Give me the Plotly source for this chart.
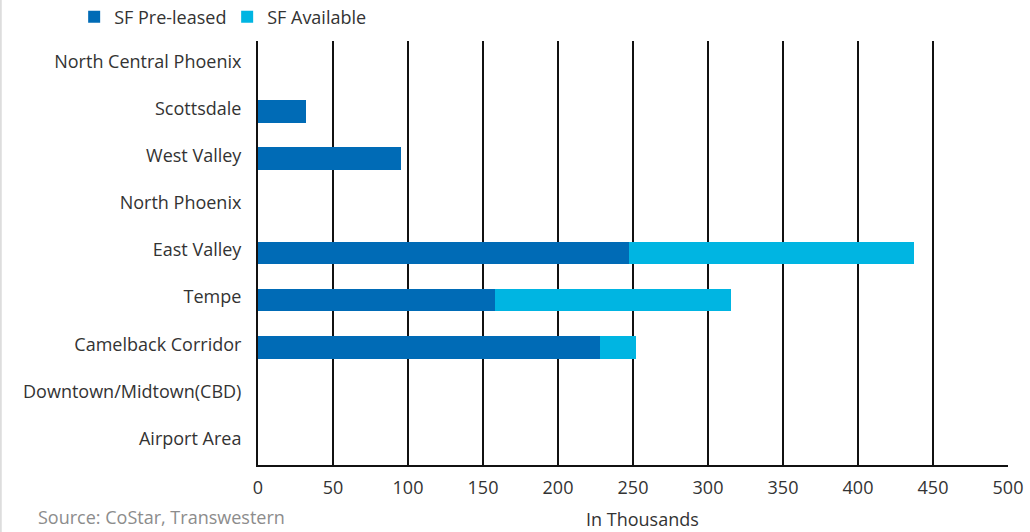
import plotly.graph_objects as go

categories = ["North Central Phoenix", "Scottsdale", "West Valley", "North Phoenix",
              "East Valley", "Tempe", "Camelback Corridor", "Downtown/Midtown(CBD)", "Airport Area"]
pre_leased = [0, 32, 95, 0, 247, 158, 228, 0, 0]
available = [0, 0, 0, 0, 190, 157, 24, 0, 0]
x_ticks = [0, 50, 100, 150, 200, 250, 300, 350, 400, 450, 500]

FONT = "Open Sans"
fig = go.Figure()
fig.add_trace(go.Bar(y=categories, x=pre_leased, orientation="h", name="SF Pre-leased",
                     marker=dict(color="#006bb6", line=dict(width=0))))
fig.add_trace(go.Bar(y=categories, x=available, orientation="h", name="SF Available",
                     marker=dict(color="#00b5e2", line=dict(width=0))))

fig.update_layout(
    barmode="stack", bargap=0.52,
    width=1030, height=532,
    margin=dict(l=258, r=22, t=41, b=67),
    paper_bgcolor="white", plot_bgcolor="white",
    font=dict(family=FONT, size=18, color="#333333"),
    showlegend=True,
    legend=dict(orientation="h", xref="container", yref="container",
                x=0.072, y=0.968, xanchor="left", yanchor="middle",
                font=dict(family=FONT, size=18, color="#333333"), itemwidth=30,
                entrywidth=108, traceorder="normal"),
    xaxis=dict(range=[0, 500], tickvals=x_ticks, showgrid=True, gridcolor="#111111",
               gridwidth=2, zeroline=False, showline=True, linecolor="#111111", linewidth=2,
               ticks="", ticklabelstandoff=5, automargin=False,
               tickfont=dict(size=18, color="#333333")),
    yaxis=dict(autorange="reversed", showgrid=False, showline=True, linecolor="#111111",
               linewidth=2, ticks="", ticklabelstandoff=11, ticklabelshift=3, automargin=False,
               tickfont=dict(size=18, color="#333333")),
    annotations=[
        dict(text="Source: CoStar, Transwestern", xref="paper", yref="paper",
             x=-0.296, y=-0.123, xanchor="left", yanchor="middle", showarrow=False,
             font=dict(family=FONT, size=18, color="#8c8c8c")),
        dict(text="In Thousands", xref="paper", yref="paper", x=0.512, y=-0.128,
             xanchor="center", yanchor="middle", showarrow=False,
             font=dict(family=FONT, size=18, color="#333333")),
    ],
    shapes=[
        dict(type="line", xref="paper", yref="paper", x0=-0.343, x1=-0.343, y0=-0.16, y1=1.1,
             line=dict(color="#dddddd", width=2)),
    ],
)

fig.write_html("out.html")
